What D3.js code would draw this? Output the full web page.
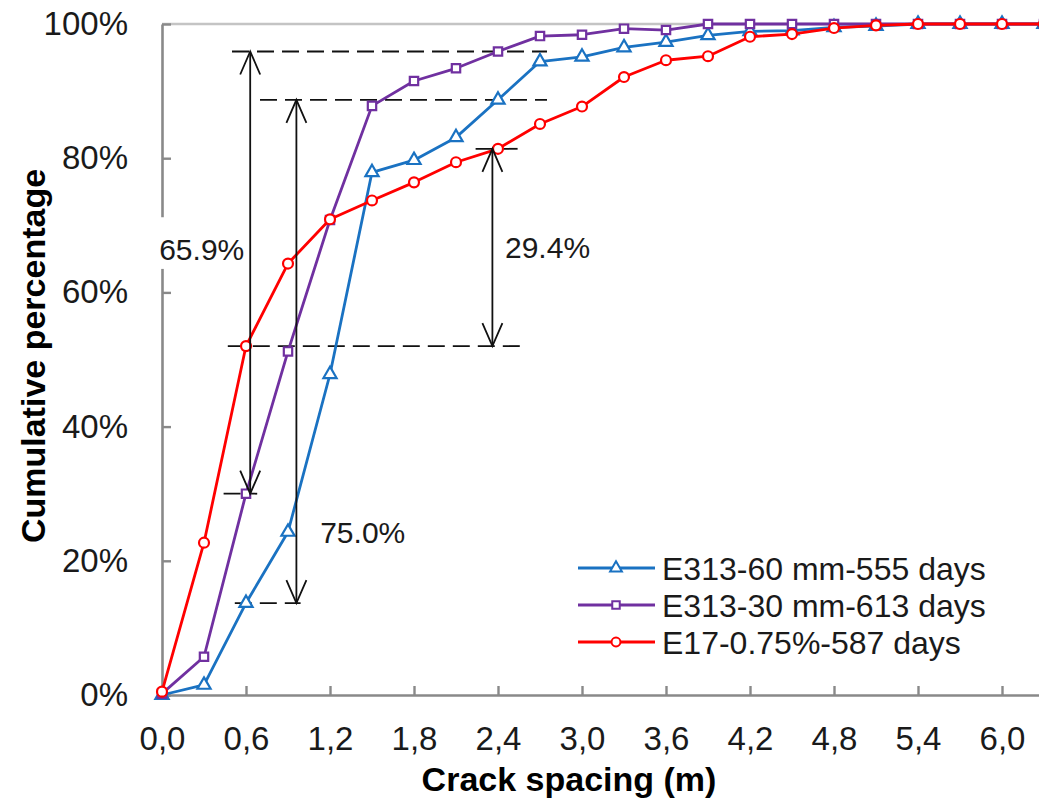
<!DOCTYPE html>
<html>
<head>
<meta charset="utf-8">
<script src="https://cdn.jsdelivr.net/npm/d3@7"></script>
<style>
  html, body { margin: 0; padding: 0; background: #fff; }
  svg { display: block; font-family: Arial, "Liberation Sans", sans-serif; }
</style>
</head>
<body>
<svg id="chart" width="1039" height="800"></svg>
<script>
// Crack spacing (m) at which the cumulative share is evaluated
const spacing = [0, 0.3, 0.6, 0.9, 1.2, 1.5, 1.8, 2.1, 2.4, 2.7, 3.0, 3.3, 3.6, 3.9, 4.2, 4.5, 4.8, 5.1, 5.4, 5.7, 6.0, 6.3];

// Cumulative percentage of cracks per specimen
const seriesNames = ["E313-60 mm-555 days", "E313-30 mm-613 days", "E17-0.75%-587 days"];
const e313_60 = [0, 1.5, 13.7, 24.3, 47.8, 77.9, 79.7, 83.1, 88.7, 94.4, 95.1, 96.5, 97.3, 98.3, 98.9, 99.0, 99.5, 99.7, 100, 100, 100, 100];
const e313_30 = [0.2, 5.7, 30.0, 51.2, 70.8, 87.8, 91.5, 93.4, 95.9, 98.2, 98.4, 99.3, 99.1, 100, 100, 100, 100, 100, 100, 100, 100, 100];
const e17 = [0.5, 22.7, 52.0, 64.3, 70.9, 73.7, 76.4, 79.4, 81.4, 85.1, 87.7, 92.1, 94.6, 95.2, 98.1, 98.5, 99.4, 99.8, 100, 100, 100, 100];

// Axis ticks
const xTicks = [0, 0.6, 1.2, 1.8, 2.4, 3.0, 3.6, 4.2, 4.8, 5.4, 6.0];
const yTicks = [0, 20, 40, 60, 80, 100];

// Difference annotations: spacing of the arrow, upper and lower cumulative value, label
const gapLabels = ["65.9%", "75.0%", "29.4%"];
const gapX = [0.63, 0.96, 2.36];
const gapTop = [95.9, 88.7, 81.4];
const gapBottom = [30.0, 13.7, 52.0];
// Dashed guide lines: level and horizontal extent (m)
const guideLevel = [95.9, 88.7, 81.4, 30.0, 13.7, 52.0];
const guideFrom = [0.50, 0.70, 2.24, 0.44, 0.52, 0.47];
const guideTo = [2.75, 2.75, 2.54, 0.68, 0.99, 2.58];

const svg = d3.select("#chart");
const x = d3.scaleLinear().domain([0, 6.3]).range([162, 1044]);
const y = d3.scaleLinear().domain([0, 100]).range([695, 24]);

const axisColor = "#898989";
const colors = ["#1a72c2", "#7030a0", "#ff0000"];
const symbols = [d3.symbolTriangle, d3.symbolSquare, d3.symbolCircle];
const symbolSizes = [75, 70, 78];

// Top border of the plot at 100%
svg.append("line")
  .attr("x1", x(0)).attr("x2", 1039)
  .attr("y1", y(100)).attr("y2", y(100))
  .attr("stroke", "#c4c4c4").attr("stroke-width", 2.5);

// Axes
const xAxis = svg.append("g")
  .attr("transform", `translate(0,${y(0)})`)
  .call(d3.axisBottom(x).tickValues(xTicks).tickSizeInner(-9).tickSizeOuter(0).tickPadding(32)
    .tickFormat(d => d3.format(".1f")(d).replace(".", ",")));
const yAxis = svg.append("g")
  .attr("transform", `translate(${x(0)},0)`)
  .call(d3.axisLeft(y).tickValues(yTicks).tickSizeInner(-9).tickSizeOuter(0).tickPadding(34)
    .tickFormat(d => d + "%"));
[xAxis, yAxis].forEach(g => {
  g.select(".domain").attr("stroke", axisColor).attr("stroke-width", 2.6);
  g.selectAll(".tick line").attr("stroke", axisColor).attr("stroke-width", 2.4);
  g.selectAll(".tick text").attr("fill", "#1a1a1a").style("font-size", "33px")
    .style("font-family", "Arial, 'Liberation Sans', sans-serif");
});

// Axis titles
svg.append("text")
  .attr("x", 569).attr("y", 791)
  .attr("text-anchor", "middle")
  .style("font-size", "34px").style("font-weight", "bold")
  .text("Crack spacing (m)");
svg.append("text")
  .attr("transform", `translate(45,356) rotate(-90)`)
  .attr("text-anchor", "middle")
  .style("font-size", "34px").style("font-weight", "bold")
  .text("Cumulative percentage");

// Dashed guide lines
const guides = guideLevel.map((v, i) => ({ v, a: guideFrom[i], b: guideTo[i] }));
svg.append("g").selectAll("line").data(guides).join("line")
  .attr("x1", d => x(d.a)).attr("x2", d => x(d.b))
  .attr("y1", d => y(d.v)).attr("y2", d => y(d.v))
  .attr("stroke", "#111").attr("stroke-width", 1.8)
  .attr("stroke-dasharray", "17,8");

// Series lines and markers
const seriesValues = [e313_60, e313_30, e17];
const line = d3.line().x(d => x(d[0])).y(d => y(d[1]));
seriesValues.forEach((vals, i) => {
  const pts = spacing.map((s, j) => [s, vals[j]]);
  const g = svg.append("g");
  g.append("path").datum(pts)
    .attr("d", line).attr("fill", "none")
    .attr("stroke", colors[i]).attr("stroke-width", 2.8)
    .attr("stroke-linejoin", "round");
  g.selectAll("path.m").data(pts).join("path").attr("class", "m")
    .attr("transform", d => `translate(${x(d[0])},${y(d[1])})`)
    .attr("d", d3.symbol().type(symbols[i]).size(symbolSizes[i]))
    .attr("fill", "#fff").attr("stroke", colors[i]).attr("stroke-width", 2.2);
});

// Double-headed arrows for the differences
const gaps = gapLabels.map((t, i) => ({ t, sx: gapX[i], top: gapTop[i], bot: gapBottom[i] }));
const arrows = svg.append("g").attr("fill", "none").attr("stroke", "#111").attr("stroke-width", 1.8);
gaps.forEach(d => {
  const px = x(d.sx), yt = y(d.top), yb = y(d.bot);
  arrows.append("line").attr("x1", px).attr("x2", px).attr("y1", yt).attr("y2", yb);
  arrows.append("path").attr("d", `M${px - 10},${yt + 23}L${px},${yt}L${px + 10},${yt + 23}`);
  arrows.append("path").attr("d", `M${px - 10},${yb - 23}L${px},${yb}L${px + 10},${yb - 23}`);
});

// Difference labels (the first one sits on a white box over the axis)
const labelX = [-0.02, 1.13, 2.45];
const labelY = [66.4, 24.2, 66.7];
svg.append("rect")
  .attr("x", x(0) - 10).attr("y", y(71.2))
  .attr("width", 96).attr("height", y(63.5) - y(71.2))
  .attr("fill", "#fff");
svg.append("g").selectAll("text").data(gaps).join("text")
  .attr("x", (d, i) => x(labelX[i]))
  .attr("y", (d, i) => y(labelY[i]))
  .attr("dy", "0.36em")
  .attr("fill", "#1a1a1a")
  .style("font-size", "30px")
  .text(d => d.t);

// Legend
const legend = svg.append("g");
seriesNames.forEach((name, i) => {
  const cy = 568 + i * 37;
  legend.append("line").attr("x1", 578).attr("x2", 655).attr("y1", cy).attr("y2", cy)
    .attr("stroke", colors[i]).attr("stroke-width", 2.8);
  legend.append("path").attr("transform", `translate(616,${cy})`)
    .attr("d", d3.symbol().type(symbols[i]).size(symbolSizes[i] * 0.8))
    .attr("fill", "#fff").attr("stroke", colors[i]).attr("stroke-width", 2);
  legend.append("text").attr("x", 662).attr("y", cy).attr("dy", "0.36em")
    .attr("fill", "#1a1a1a").style("font-size", "32px").text(name);
});
</script>
</body>
</html>
